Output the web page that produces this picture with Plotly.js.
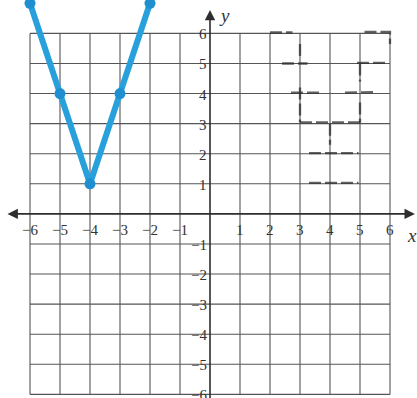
<!DOCTYPE html>
<html>
<head>
<meta charset="utf-8">
<script src="https://cdn.plot.ly/plotly-3.0.1.min.js"></script>
<style>
  html, body { margin: 0; padding: 0; background: #ffffff; }
  #graph { width: 417px; height: 398px; }
</style>
</head>
<body>
<div id="graph"></div>
<script>
// Coordinate grid: integer lines from -6 to 6 on both axes
const gridValues = [-6, -5, -4, -3, -2, -1, 1, 2, 3, 4, 5, 6];
const xTickLabels = ['−6', '−5', '−4', '−3', '−2', '−1', '1', '2', '3', '4', '5', '6'];
const yTickLabels = ['−6', '−5', '−4', '−3', '−2', '−1', '1', '2', '3', '4', '5', '6'];

// Graph of y = 3|x + 4| + 1 drawn in blue, running off the top of the grid
const lineX = [-6.4, -6, -5, -4, -3, -2, -1.7];
const lineY = [8.2, 7, 4, 1, 4, 7, 8.2];
const pointX = [-6, -5, -4, -3, -2];
const pointY = [7, 4, 1, 4, 7];

// Pencil dashes sketched on the right half (null breaks the strokes)
const pencilX = [2.0, 2.75, null, 5.15, 6.0, 6.0, null,
                 2.4, 3.25, null, 4.9, 5.85, null,
                 3.0, 3.0, null, 3.0, 3.0, null,
                 2.7, 3.65, null, 4.5, 5.5, null,
                 5.0, 5.0, null, 5.0, 5.0, null,
                 3.0, 5.05, null,
                 4.0, 4.0, null,
                 3.3, 4.95, null,
                 3.3, 4.95];
const pencilY = [6.03, 6.03, null, 6.05, 6.05, 5.65, null,
                 5.0, 5.0, null, 5.02, 5.02, null,
                 5.65, 5.2, null, 4.2, 3.05, null,
                 4.03, 4.03, null, 4.03, 4.05, null,
                 5.0, 4.4, null, 3.7, 3.03, null,
                 3.04, 3.04, null,
                 3.0, 2.3, null,
                 2.02, 2.02, null,
                 1.03, 1.03];

const gridColor = '#555555';
const axisColor = '#2e2e2e';
const serif = '"Liberation Serif", "Times New Roman", Times, serif';
const labelFont = { family: serif, size: 15, color: '#333333' };

const shapes = [];
gridValues.forEach(v => {
  shapes.push({ type: 'line', xref: 'x', yref: 'y', x0: v, x1: v, y0: -6, y1: 6,
                line: { color: gridColor, width: 1.1 }, layer: 'below' });
  shapes.push({ type: 'line', xref: 'x', yref: 'y', x0: -6, x1: 6, y0: v, y1: v,
                line: { color: gridColor, width: 1.1 }, layer: 'below' });
});

const annotations = [];
// x tick labels under the x axis
gridValues.forEach((v, i) => {
  annotations.push({ x: v, y: -0.52, xref: 'x', yref: 'y', text: xTickLabels[i],
                     showarrow: false, font: labelFont, xanchor: 'center', yanchor: 'middle' });
});
// y tick labels left of the y axis
gridValues.forEach((v, i) => {
  annotations.push({ x: -0.04, y: v, xref: 'x', yref: 'y', text: yTickLabels[i],
                     showarrow: false, font: labelFont, xanchor: 'right', yanchor: 'middle', yshift: -1 });
});
// x axis with arrowheads at both ends
annotations.push({ x: 6.83, y: 0, ax: -6.8, ay: 0, xref: 'x', yref: 'y', axref: 'x', ayref: 'y',
                   text: '', showarrow: true, arrowside: 'end+start', arrowhead: 2,
                   arrowsize: 1.3, arrowwidth: 1.6, arrowcolor: axisColor, standoff: 0, startstandoff: 0 });
// y axis with arrowhead at the top
annotations.push({ x: 0, y: 6.78, ax: 0, ay: -6.4, xref: 'x', yref: 'y', axref: 'x', ayref: 'y',
                   text: '', showarrow: true, arrowhead: 2,
                   arrowsize: 1.3, arrowwidth: 1.6, arrowcolor: axisColor, standoff: 0 });
// axis names
annotations.push({ x: 6.72, y: -0.72, xref: 'x', yref: 'y', text: '<i>x</i>', showarrow: false,
                   font: { family: serif, size: 19, color: '#333333' } });
annotations.push({ x: 0.47, y: 6.58, xref: 'x', yref: 'y', text: '<i>y</i>', showarrow: false,
                   font: { family: serif, size: 19, color: '#333333' } });

const traces = [
  { x: pencilX, y: pencilY, mode: 'lines', hoverinfo: 'skip',
    line: { color: 'rgba(45,45,45,0.75)', width: 2.3, dash: '12px,4px' } },
  { x: lineX, y: lineY, mode: 'lines', hoverinfo: 'skip',
    line: { color: '#27a0dc', width: 6 } },
  { x: pointX, y: pointY, mode: 'markers', hoverinfo: 'skip',
    marker: { color: '#1f8fd0', size: 11 } }
];

const layout = {
  width: 417, height: 398,
  margin: { l: 0, r: 0, t: 0, b: 0 },
  paper_bgcolor: '#ffffff', plot_bgcolor: '#ffffff',
  showlegend: false,
  font: { family: serif },
  xaxis: { range: [-7, 6.9], visible: false, fixedrange: true },
  yaxis: { range: [-6.12, 7.11], visible: false, fixedrange: true },
  shapes: shapes,
  annotations: annotations
};

Plotly.newPlot('graph', traces, layout, { staticPlot: true, displayModeBar: false });
</script>
</body>
</html>
